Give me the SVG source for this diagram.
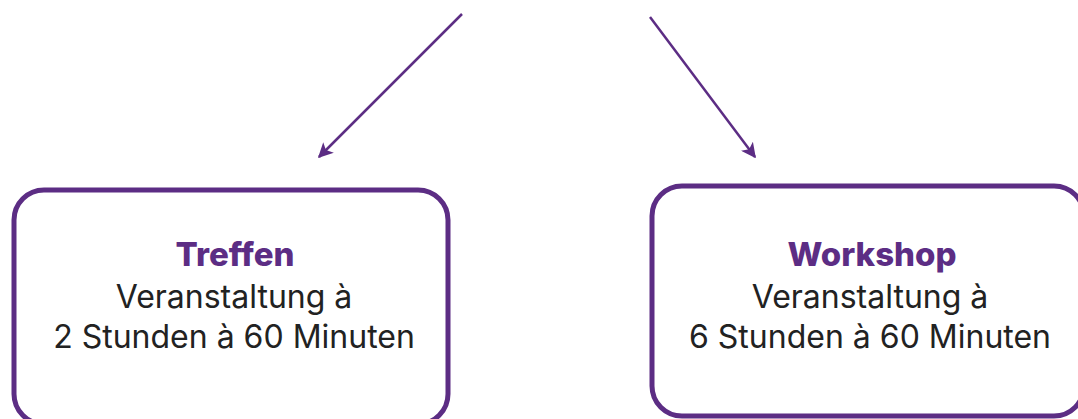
<svg xmlns="http://www.w3.org/2000/svg" width="1078" height="419" viewBox="0 0 1078 419">
<style>
.box{fill:#fff;stroke:#5c2d84;stroke-width:5}
.title{font-family:Inter,"Liberation Sans",sans-serif;font-weight:800;font-size:33px;fill:#5c2d84;text-anchor:middle}
.body{font-family:Inter,"Liberation Sans",sans-serif;font-size:32px;fill:#222;text-anchor:middle}
.conn{stroke:#5c2d84;stroke-width:2.5;fill:none}
</style>
<defs>
<marker id="ah" viewBox="0 0 10 10" refX="9" refY="5" markerWidth="6" markerHeight="6" markerUnits="strokeWidth" orient="auto">
<path d="M0,0 L10,5 L0,10 L2.5,5 Z" fill="#5c2d84"/>
</marker>
</defs>
<rect width="1078" height="419" fill="#fff"/>
<g id="connectors">
<line class="conn" x1="462" y1="14" x2="319" y2="157" marker-end="url(#ah)"/>
<line class="conn" x1="650" y1="17" x2="755" y2="157" marker-end="url(#ah)"/>
</g>
<g id="treffen">
<rect class="box" x="14" y="190" width="434" height="234" rx="30"/>
<text class="title" x="235" y="266">Treffen</text>
<text class="body" x="234" y="308">Veranstaltung à</text>
<text class="body" x="234" y="348">2 Stunden à 60 Minuten</text>
</g>
<g id="workshop">
<rect class="box" x="652" y="186" width="432" height="230" rx="30"/>
<text class="title" x="872" y="266">Workshop</text>
<text class="body" x="870" y="308">Veranstaltung à</text>
<text class="body" x="870" y="348">6 Stunden à 60 Minuten</text>
</g>
</svg>
